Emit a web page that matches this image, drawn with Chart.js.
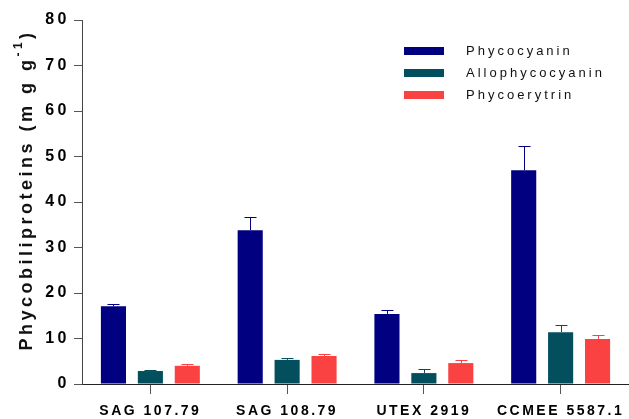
<!DOCTYPE html>
<html>
<head>
<meta charset="utf-8">
<script src="https://cdn.jsdelivr.net/npm/chart.js@4.4.0/dist/chart.umd.min.js"></script>
<style>
    html, body { margin: 0; padding: 0; background: #fff; }
    #chart { display: block; }
</style>
</head>
<body>
<canvas id="chart" width="629" height="419"></canvas>
<script>
const strains = ['SAG 107.79', 'SAG 108.79', 'UTEX 2919', 'CCMEE 5587.1'];
const seriesNames = ['Phycocyanin', 'Allophycocyanin', 'Phycoerytrin'];
const phycocyanin = [17.1, 33.8, 15.4, 47.0];
const phycocyaninErr = [0.4, 3.0, 0.9, 5.3];
const allophycocyanin = [2.85, 5.3, 2.4, 11.4];
const allophycocyaninErr = [0.3, 0.5, 0.8, 1.6];
const phycoerytrin = [4.0, 6.15, 4.6, 9.9];
const phycoerytrinErr = [0.5, 0.5, 0.75, 0.9];
const colors = ['#000080', '#034f5e', '#fa4242'];

const FONT = '"Liberation Sans", Arial, sans-serif';

// upward error bars with a cap
const errorBars = {
    id: 'errorBars',
    afterDatasetsDraw(chart) {
        const ctx = chart.ctx;
        const y = chart.scales.y;
        chart.data.datasets.forEach((ds, i) => {
            const meta = chart.getDatasetMeta(i);
            meta.data.forEach((bar, j) => {
                const top = Math.round(y.getPixelForValue(ds.data[j] + ds.errors[j])) + 0.5;
                const x = Math.round(bar.x) + 0.5;
                ctx.save();
                ctx.strokeStyle = ds.backgroundColor;
                ctx.lineWidth = 1;
                ctx.beginPath();
                ctx.moveTo(x, bar.y);
                ctx.lineTo(x, top);
                ctx.moveTo(x - 6, top);
                ctx.lineTo(x + 6, top);
                ctx.stroke();
                ctx.restore();
            });
        });
    }
};

// legend inside the plot + rotated y title with superscript
const decorations = {
    id: 'decorations',
    beforeDraw(chart) {
        chart.ctx.letterSpacing = '2.5px';
    },
    afterDraw(chart) {
        const ctx = chart.ctx;
        ctx.save();
        ctx.letterSpacing = '3px';
        ctx.font = '13px ' + FONT;
        ctx.textBaseline = 'middle';
        chart.data.datasets.forEach((ds, i) => {
            const cy = 51 + i * 22;
            ctx.fillStyle = ds.backgroundColor;
            ctx.fillRect(404, cy - 4, 40, 8);
            ctx.fillStyle = '#111';
            ctx.fillText(ds.label, 466, cy);
        });
        ctx.restore();

        ctx.save();
        ctx.translate(27, 190);
        ctx.rotate(-Math.PI / 2);
        ctx.fillStyle = '#111';
        ctx.textBaseline = 'middle';
        ctx.textAlign = 'left';
        ctx.letterSpacing = '3.5px';
        const main = 'Phycobiliproteins (m g g';
        ctx.font = 'bold 12px ' + FONT;
        const supW = ctx.measureText('-1').width;
        ctx.font = 'bold 18px ' + FONT;
        const mainW = ctx.measureText(main).width;
        const closeW = ctx.measureText(')').width;
        let x = -(mainW + supW + closeW) / 2;
        ctx.fillText(main, x, 0);
        x += mainW;
        ctx.font = 'bold 12px ' + FONT;
        ctx.fillText('-1', x, -8);
        x += supW;
        ctx.font = 'bold 18px ' + FONT;
        ctx.fillText(')', x, 0);
        ctx.restore();
    }
};

const chart = new Chart(document.getElementById('chart'), {
    type: 'bar',
    data: {
        labels: strains,
        datasets: [
            { label: seriesNames[0], data: phycocyanin, errors: phycocyaninErr, backgroundColor: colors[0] },
            { label: seriesNames[1], data: allophycocyanin, errors: allophycocyaninErr, backgroundColor: colors[1] },
            { label: seriesNames[2], data: phycoerytrin, errors: phycoerytrinErr, backgroundColor: colors[2] }
        ]
    },
    options: {
        responsive: false,
        devicePixelRatio: 1,
        animation: false,
        categoryPercentage: 0.81,
        barPercentage: 0.68,
        layout: { padding: { top: 20, right: 0, left: 0, bottom: 0 } },
        plugins: {
            legend: { display: false },
            tooltip: { enabled: false }
        },
        scales: {
            x: {
                afterFit(scale) { scale.height = 35; },
                grid: {
                    display: true,
                    drawOnChartArea: false,
                    drawTicks: true,
                    tickLength: 10,
                    offset: false,
                    color: '#555'
                },
                border: { display: true, color: '#222', width: 1 },
                ticks: {
                    color: '#000',
                    padding: 9,
                    font: { family: FONT, size: 14, weight: 'bold' }
                }
            },
            y: {
                min: 0,
                max: 80,
                afterFit(scale) {
                    scale.width = 82;
                    // wider spacing for the y tick numbers only
                    if (!scale._spaced) {
                        const drawLabels = scale.drawLabels.bind(scale);
                        scale.drawLabels = function(area) {
                            this.ctx.save();
                            this.ctx.letterSpacing = '3.5px';
                            drawLabels(area);
                            this.ctx.restore();
                        };
                        scale._spaced = true;
                    }
                },
                grid: {
                    display: true,
                    drawOnChartArea: false,
                    drawTicks: true,
                    tickLength: 8,
                    color: '#555'
                },
                border: { display: true, color: '#444', width: 1 },
                ticks: {
                    stepSize: 10,
                    color: '#000',
                    padding: 4,
                    font: { family: FONT, size: 16, weight: 'bold' }
                }
            }
        }
    },
    plugins: [errorBars, decorations]
});
</script>
</body>
</html>
